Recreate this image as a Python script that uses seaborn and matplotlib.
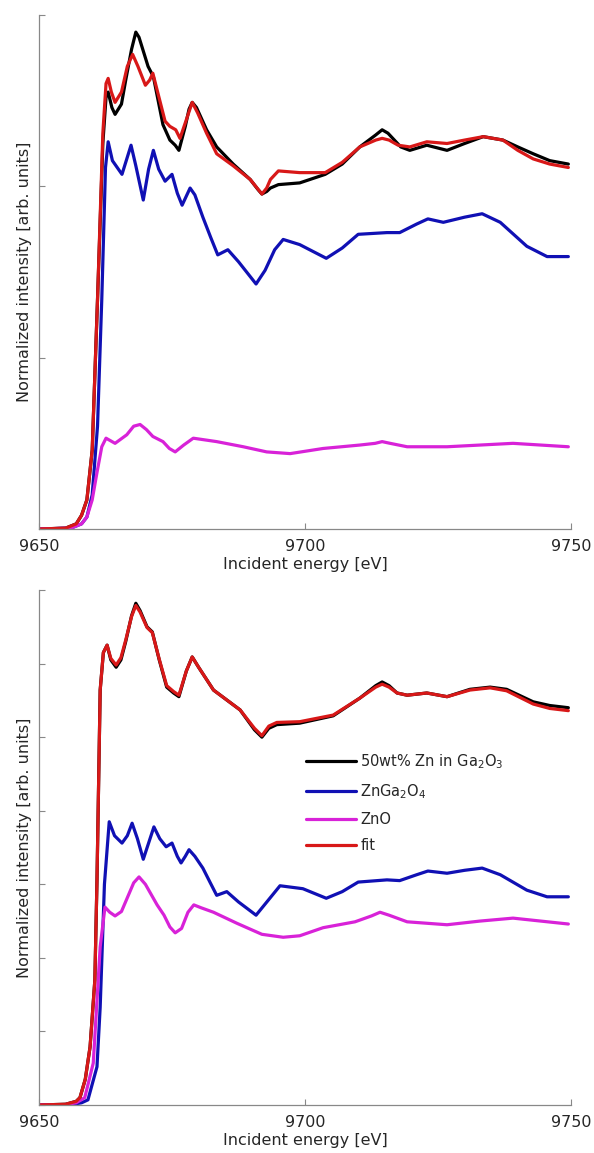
import numpy as np
import pandas as pd
import matplotlib
matplotlib.use("Agg")
import matplotlib.pyplot as plt
import seaborn as sns

# ---------------- data ----------------
# Top panel
top_sample_E = [9650, 9655, 9657, 9658, 9659, 9660, 9661, 9662, 9662.6, 9663, 9663.7, 9664.3, 9665.5,
                9666.3, 9667.4, 9668.2, 9668.8, 9669.5, 9670.5, 9671.5, 9672.4, 9673.3, 9674.6, 9675.6,
                9676.3, 9677.5, 9678.2, 9678.8, 9679.6, 9681.5, 9683.4, 9686.5, 9689.7, 9691.2,
                9691.9, 9692.8, 9693.5, 9695, 9699, 9703.8, 9707, 9710.3, 9713.3, 9714.5, 9715.6,
                9716.5, 9718, 9719.7, 9722.9, 9726.7, 9730, 9733.5, 9737.2, 9740, 9742.9, 9746, 9749.5]
top_sample_I = [0, 0.005, 0.03, 0.08, 0.17, 0.46, 1.34, 2.25, 2.52, 2.55, 2.46, 2.42, 2.48,
                2.62, 2.80, 2.90, 2.87, 2.80, 2.70, 2.64, 2.50, 2.36, 2.27, 2.24,
                2.21, 2.35, 2.45, 2.49, 2.46, 2.33, 2.23, 2.13, 2.04, 1.98,
                1.955, 1.97, 1.99, 2.01, 2.02, 2.07, 2.13, 2.23, 2.30, 2.33, 2.31,
                2.28, 2.23, 2.21, 2.24, 2.21, 2.25, 2.29, 2.27, 2.23, 2.19, 2.15, 2.13]

top_fit_E = [9650, 9655, 9657, 9658, 9659, 9660, 9661, 9662, 9662.6, 9663, 9663.6, 9664.3, 9665.5,
             9666.6, 9667.6, 9668.6, 9670, 9670.8, 9671.4, 9672.3, 9673.7, 9674.6, 9675.7, 9676.5,
             9677.6, 9678.8, 9679.8, 9681.5, 9683.4, 9686.5, 9689.7, 9691.9, 9692.8, 9693.5, 9695,
             9699, 9703.8, 9707, 9710.3, 9713.3, 9714.5, 9715.8, 9717.5, 9719.7, 9722.9, 9726.7,
             9730, 9733.5, 9737.2, 9740, 9742.9, 9746, 9749.5]
top_fit_I = [0, 0.005, 0.03, 0.08, 0.17, 0.46, 1.34, 2.31, 2.60, 2.63, 2.55, 2.49, 2.55,
             2.70, 2.77, 2.70, 2.59, 2.62, 2.66, 2.55, 2.38, 2.35, 2.33, 2.28,
             2.38, 2.49, 2.43, 2.31, 2.19, 2.12, 2.04, 1.955, 1.99, 2.04, 2.09,
             2.08, 2.08, 2.14, 2.23, 2.27, 2.28, 2.27, 2.24, 2.23, 2.26, 2.25,
             2.27, 2.29, 2.27, 2.21, 2.16, 2.13, 2.11]

top_spinel_E = [9650, 9656, 9658, 9659, 9660, 9661, 9661.8, 9662.5, 9663, 9663.8, 9665.6, 9666.6,
                9667.3, 9668.2, 9669.6, 9670.6, 9671.5, 9672.5, 9673.7, 9675, 9676, 9676.9, 9678.4,
                9679.3, 9680.8, 9682.3, 9683.6, 9685.5, 9687.5, 9690.8, 9692.5, 9694.3, 9695.9,
                9699, 9704, 9707, 9710, 9715.4, 9717.8, 9721, 9723.1, 9726, 9730, 9733.3, 9736.7,
                9741.7, 9745.5, 9749.5]
top_spinel_I = [0, 0.005, 0.03, 0.07, 0.2, 0.6, 1.34, 2.11, 2.26, 2.15, 2.07, 2.17,
                2.24, 2.12, 1.92, 2.10, 2.21, 2.10, 2.03, 2.07, 1.96, 1.89, 1.99,
                1.95, 1.82, 1.70, 1.60, 1.63, 1.56, 1.43, 1.51, 1.63, 1.69,
                1.66, 1.58, 1.64, 1.72, 1.73, 1.73, 1.78, 1.81, 1.79, 1.82, 1.84, 1.79,
                1.65, 1.59, 1.59]

top_zno_E = [9650, 9656, 9658, 9659, 9660, 9660.9, 9661.8, 9662.6, 9664.3, 9666.5, 9667.8, 9669,
             9670.2, 9671.4, 9673.3, 9674.5, 9675.6, 9677.2, 9679, 9683.4, 9688.4, 9692.8, 9697.2,
             9703.4, 9710.3, 9713.2, 9714.5, 9716, 9719.2, 9726.7, 9732.9, 9739.1, 9749.5]
top_zno_I = [0, 0.005, 0.03, 0.07, 0.17, 0.33, 0.48, 0.53, 0.50, 0.55, 0.60, 0.61,
             0.58, 0.54, 0.51, 0.47, 0.45, 0.49, 0.53, 0.51, 0.48, 0.45, 0.44,
             0.47, 0.49, 0.50, 0.51, 0.50, 0.48, 0.48, 0.49, 0.50, 0.48]

# Bottom panel
bot_sample_E = [9650, 9655, 9657, 9657.7, 9658.7, 9659.6, 9660.5, 9660.9, 9661.5, 9662.1, 9662.8,
                9663.5, 9664.5, 9665.4, 9666.3, 9667.4, 9668.2, 9669, 9670.3, 9671.3, 9672.6,
                9674, 9675.3, 9676.3, 9677.7, 9678.8, 9680, 9682.8, 9687.8, 9690.5, 9691.9,
                9693.2, 9694.7, 9699, 9705.3, 9710.3, 9713.3, 9714.5, 9715.8, 9717.3, 9719.2,
                9722.9, 9726.7, 9731, 9734.8, 9737.9, 9742.9, 9746, 9749.5]
bot_sample_I = [0, 0.01, 0.05, 0.1, 0.35, 0.79, 1.70, 3.06, 5.64, 6.15, 6.25,
                6.05, 5.95, 6.05, 6.30, 6.65, 6.82, 6.72, 6.50, 6.43, 6.05,
                5.68, 5.60, 5.55, 5.90, 6.09, 5.95, 5.64, 5.37, 5.10, 5.00,
                5.12, 5.17, 5.19, 5.29, 5.53, 5.70, 5.75, 5.70, 5.60, 5.57,
                5.60, 5.55, 5.65, 5.68, 5.65, 5.48, 5.43, 5.40]

bot_fit_E = bot_sample_E
bot_fit_I = [0, 0.01, 0.05, 0.1, 0.35, 0.79, 1.70, 3.06, 5.64, 6.15, 6.25,
             6.07, 5.98, 6.08, 6.32, 6.64, 6.79, 6.70, 6.49, 6.42, 6.06,
             5.70, 5.62, 5.57, 5.90, 6.09, 5.95, 5.64, 5.37, 5.12, 5.02,
             5.15, 5.20, 5.21, 5.30, 5.53, 5.68, 5.72, 5.68, 5.60, 5.57,
             5.60, 5.55, 5.64, 5.67, 5.63, 5.45, 5.39, 5.36]

bot_spinel_E = [9650, 9656, 9658, 9659.2, 9660.9, 9661.5, 9662.3, 9663.2, 9664.2, 9665.6, 9666.6,
                9667.5, 9668.5, 9669.6, 9670.6, 9671.6, 9672.7, 9673.9, 9675, 9676, 9676.7,
                9677.5, 9678.2, 9679.3, 9680.8, 9682.2, 9683.4, 9685.3, 9687.5, 9690.8, 9692.6,
                9695.3, 9699.6, 9704, 9707, 9710, 9715.4, 9717.8, 9721, 9723.1, 9726.7, 9730,
                9733.3, 9736.7, 9741.7, 9745.5, 9749.5]
bot_spinel_I = [0, 0.005, 0.03, 0.07, 0.52, 1.33, 3.0, 3.85, 3.66, 3.56, 3.66,
                3.83, 3.62, 3.34, 3.56, 3.78, 3.62, 3.51, 3.56, 3.38, 3.29,
                3.38, 3.47, 3.38, 3.22, 3.02, 2.85, 2.90, 2.76, 2.58, 2.74,
                2.98, 2.94, 2.81, 2.90, 3.03, 3.06, 3.05, 3.13, 3.18, 3.15, 3.19,
                3.22, 3.13, 2.92, 2.83, 2.83]

bot_zno_E = [9650, 9655, 9657, 9658.6, 9660.2, 9661.5, 9662.4, 9663.3, 9664.3, 9665.5, 9666.5,
             9667.8, 9668.8, 9670, 9672.2, 9673.5, 9674.6, 9675.6, 9676.8, 9678, 9679.1, 9680.5,
             9682.8, 9687.2, 9691.9, 9695.9, 9699, 9703.4, 9709.4, 9712.5, 9714.1, 9715.8,
             9719.2, 9726.7, 9732.9, 9739.1, 9749.5]
bot_zno_I = [0, 0.005, 0.03, 0.1, 0.57, 2.15, 2.69, 2.62, 2.57, 2.63, 2.80,
             3.02, 3.10, 3.00, 2.72, 2.58, 2.42, 2.34, 2.40, 2.62, 2.72, 2.68,
             2.62, 2.47, 2.32, 2.28, 2.30, 2.41, 2.49, 2.57, 2.62, 2.58,
             2.49, 2.45, 2.50, 2.54, 2.46]

labels = [r'50wt% Zn in Ga$_2$O$_3$', r'ZnGa$_2$O$_4$', 'ZnO', 'fit']
colors = ['#000000', '#1010b4', '#d822d8', '#d81818']
x_ticks = [9650, 9700, 9750]
x_label = 'Incident energy [eV]'
y_label = 'Normalized intensity [arb. units]'

# ---------------- plotting ----------------
sns.set_style('white')
plt.rcParams['font.family'] = ['DejaVu Sans']
plt.rcParams['mathtext.fontset'] = 'dejavusans'

fig = plt.figure(figsize=(5.94, 11.53), dpi=100)
ax1 = fig.add_axes([39/594, 1-529/1153, 532/594, 514/1153])
ax2 = fig.add_axes([39/594, 1-1105/1153, 532/594, 515/1153])

def frame(d, lab):
    return pd.DataFrame({'E': d[0], 'I': d[1], 'series': lab})

panels = [
    (ax1, [(top_sample_E, top_sample_I), (top_spinel_E, top_spinel_I),
           (top_zno_E, top_zno_I), (top_fit_E, top_fit_I)], 3),
    (ax2, [(bot_sample_E, bot_sample_I), (bot_spinel_E, bot_spinel_I),
           (bot_zno_E, bot_zno_I), (bot_fit_E, bot_fit_I)], 7),
]

for ax, series, ymax in panels:
    for (d, lab, col) in zip(series, labels, colors):
        df = frame(d, lab)
        sns.lineplot(data=df, x='E', y='I', ax=ax, color=col, lw=2.3,
                     label=lab, estimator=None, sort=False)
    ax.set_xlim(9650, 9750)
    ax.set_ylim(0, ymax)
    ax.set_xticks(x_ticks)
    ax.set_xticklabels([str(t) for t in x_ticks])
    ax.set_yticks(np.arange(0, ymax + 1))
    ax.set_yticklabels([])
    for s in ['top', 'right']:
        ax.spines[s].set_visible(False)
    for s in ['left', 'bottom']:
        ax.spines[s].set_color('#888888')
        ax.spines[s].set_linewidth(0.9)
    ax.tick_params(axis='both', direction='in', length=4, width=0.8,
                   color='#888888', labelsize=11.5, labelcolor='#262626', pad=7)
    ax.tick_params(axis='x', bottom=True)
    ax.tick_params(axis='y', left=True)
    ax.set_xlabel(x_label, fontsize=11.5, color='#262626', labelpad=2)
    ax.set_ylabel(y_label, fontsize=11.5, color='#262626')
    ax.yaxis.set_label_coords(-0.014, 0.5)
    ax.set_facecolor('white')

ax1.get_legend().remove()
leg = ax2.legend(loc='upper left', bbox_to_anchor=(0.478, 0.71), frameon=False,
                 fontsize=10.5, handlelength=3.4, handletextpad=0.3, labelspacing=0.75)
for line in leg.get_lines():
    line.set_linewidth(2.3)

fig.savefig('out.png', dpi=100, facecolor='white')
